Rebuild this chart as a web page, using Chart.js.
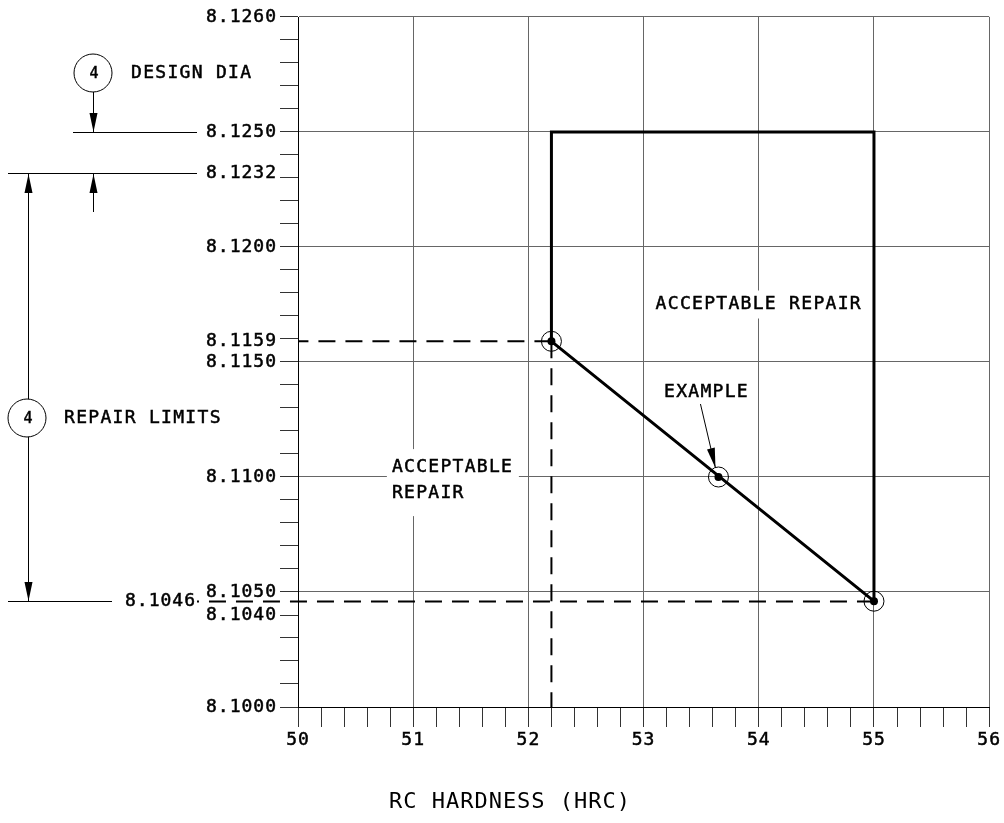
<!DOCTYPE html>
<html><head><meta charset="utf-8">
<script src="https://cdn.jsdelivr.net/npm/chart.js@4.4.1/dist/chart.umd.min.js"></script>
<style>html,body{margin:0;padding:0;background:#fff}</style>
</head><body>
<canvas id="c" width="1004" height="823"></canvas>
<script>
// ---------- data ----------
const xMajorTicks = [50, 51, 52, 53, 54, 55, 56];
const xMinorStep = 0.2;
const yGridTicks = [8.1000, 8.1050, 8.1100, 8.1150, 8.1200, 8.1250, 8.1260];
const yLabelTicks = [8.1000, 8.1040, 8.1050, 8.1100, 8.1150, 8.1200, 8.1250, 8.1260];
const yBreak = 8.1250;      // above this value the axis is drawn 5x stretched
const yStretch = 5;
const boundaryHRC = [52.2, 52.2, 55.0, 55.0, 52.2];
const boundaryDia = [8.1159, 8.1250, 8.1250, 8.1046, 8.1159];
const markHRC = [52.2, 53.65, 55.0];
const markDia = [8.1159, 8.1100, 8.1046];
const designDia = 8.1250;
const repairUpper = 8.1232;
const repairLower = 8.1046;

// ---------- helpers ----------
const FONT = '"DejaVu Sans Mono", monospace';
const GRID = '#666';
const toAxis = v => v <= yBreak ? v : yBreak + (v - yBreak) * yStretch;
const fromAxis = a => a <= yBreak + 1e-9 ? a : yBreak + (a - yBreak) / yStretch;
const fmt = v => v.toFixed(4);
const pts = (xs, ys) => xs.map((x, i) => ({x: x, y: toAxis(ys[i])}));

function head(ctx, x, y, ang, len, hw) {
  const bx = x - len * Math.cos(ang), by = y - len * Math.sin(ang);
  const nx = -Math.sin(ang) * hw, ny = Math.cos(ang) * hw;
  ctx.save(); ctx.fillStyle = '#000';
  ctx.beginPath(); ctx.moveTo(x, y); ctx.lineTo(bx + nx, by + ny); ctx.lineTo(bx - nx, by - ny);
  ctx.closePath(); ctx.fill(); ctx.restore();
}
function arrow(ctx, x1, y1, x2, y2, len, hw) {
  ctx.beginPath(); ctx.moveTo(x1, y1); ctx.lineTo(x2, y2); ctx.stroke();
  head(ctx, x2, y2, Math.atan2(y2 - y1, x2 - x1), len || 19, hw || 4);
}
function hline(ctx, x1, x2, y) { const yy = Math.round(y) + 0.5; ctx.beginPath(); ctx.moveTo(x1, yy); ctx.lineTo(x2, yy); ctx.stroke(); }
function text(ctx, s, x, y, align, size, spacing) {
  ctx.save();
  ctx.font = (size || 18) + 'px ' + FONT;
  ctx.letterSpacing = (spacing == null ? 1.3 : spacing) + 'px';
  ctx.textAlign = align || 'left'; ctx.textBaseline = 'middle';
  ctx.strokeStyle = '#000'; ctx.lineWidth = 0.5; ctx.fillStyle = '#000';
  ctx.strokeText(s, x, y);
  ctx.fillText(s, x, y);
  ctx.restore();
}
function balloon(ctx, cx, cy, r, s) {
  ctx.save();
  ctx.beginPath(); ctx.arc(cx, cy, r, 0, Math.PI * 2);
  ctx.fillStyle = '#fff'; ctx.fill(); ctx.strokeStyle = '#000'; ctx.lineWidth = 1; ctx.stroke();
  ctx.restore();
  text(ctx, s, cx + 1, cy + 1, 'center', 15, 0);
}

const spacingPlugin = {
  id: 'spacing',
  beforeUpdate(chart) { chart.ctx.letterSpacing = '1px'; },
  beforeDraw(chart) { chart.ctx.letterSpacing = '1px'; }
};

const annot = {
  id: 'annot',
  beforeDatasetsDraw(chart) {
    const ctx = chart.ctx, X = chart.scales.x, Y = chart.scales.y;
    const px = v => X.getPixelForValue(v), py = v => Y.getPixelForValue(toAxis(v));
    ctx.save();
    // upper label
    const cx = px(54.0) - 1, cy = py(8.1175);
    ctx.fillStyle = '#fff'; ctx.fillRect(cx - 110, cy - 14, 220, 28);
    text(ctx, 'ACCEPTABLE REPAIR', cx + 1, cy, 'center');
    // lower label
    const lx = px(50.815), ly1 = py(8.11043), ly2 = py(8.1093);
    ctx.fillStyle = '#fff'; ctx.fillRect(lx - 5, ly1 - 18, 132, 67);
    text(ctx, 'ACCEPTABLE', lx, ly1, 'left');
    text(ctx, 'REPAIR', lx, ly2, 'left');
    // example label
    text(ctx, 'EXAMPLE', px(53.546), py(8.1137), 'center');
    ctx.restore();
  },
  afterDraw(chart) {
    const ctx = chart.ctx, X = chart.scales.x, Y = chart.scales.y;
    const px = v => X.getPixelForValue(v), py = v => Y.getPixelForValue(toAxis(v));
    const labelRight = X.left - 21;
    ctx.save();
    ctx.strokeStyle = '#000'; ctx.fillStyle = '#000'; ctx.lineWidth = 1;

    // example arrow
    const ex = px(markHRC[1]), ey = py(markDia[1]);
    arrow(ctx, ex - 18, ey - 73, ex - 3, ey - 9, 20, 4);

    // design dia
    const yD = py(designDia);
    hline(ctx, 73, 197, yD);
    arrow(ctx, 93.5, 92, 93.5, Math.round(yD), 19, 4);
    balloon(ctx, 93, 73, 19, '4');
    text(ctx, 'DESIGN DIA', 131, 73, 'left');

    // repair limits
    const yU = py(repairUpper), yL = py(repairLower);
    hline(ctx, 8, 197, yU);
    text(ctx, fmt(repairUpper), labelRight, yU, 'right', 18, 1);
    arrow(ctx, 93.5, Math.round(yU) + 39, 93.5, Math.round(yU) + 1, 19, 4);
    ctx.beginPath(); ctx.moveTo(28.5, yU); ctx.lineTo(28.5, yL); ctx.stroke();
    head(ctx, 28.5, Math.round(yU) + 1, -Math.PI / 2, 19, 4);
    head(ctx, 28.5, Math.round(yL), Math.PI / 2, 19, 4);
    balloon(ctx, 27, 418, 19, '4');
    text(ctx, 'REPAIR LIMITS', 64, 418, 'left');

    hline(ctx, 8, 112, yL);
    text(ctx, fmt(repairLower), 196, yL, 'right', 18, 1);
    // dashed line at lower limit, from the 55 point leftwards to the label
    ctx.strokeStyle = '#000'; ctx.lineWidth = 2; ctx.setLineDash([17, 10]);
    ctx.beginPath(); ctx.moveTo(px(markHRC[2]), Math.round(yL) + 0.5); ctx.lineTo(197, Math.round(yL) + 0.5); ctx.stroke();
    ctx.setLineDash([]); ctx.lineWidth = 1;

    // 8.1159 label
    text(ctx, fmt(markDia[0]), labelRight, py(markDia[0]), 'right', 18, 1);
    ctx.restore();
  }
};

const xTicks = [];
for (let i = 0; i <= Math.round((xMajorTicks[xMajorTicks.length - 1] - xMajorTicks[0]) / xMinorStep); i++)
  xTicks.push({value: Math.round((xMajorTicks[0] + i * xMinorStep) * 10) / 10});
const yTicks = [];
for (let a = toAxis(yGridTicks[0]); a <= toAxis(yGridTicks[yGridTicks.length - 1]) + 1e-9; a += 0.001)
  yTicks.push({value: +a.toFixed(4)});

const isYGrid = a => yGridTicks.some(v => fmt(v) === fmt(fromAxis(a)));
const isYLabel = a => yLabelTicks.some(v => fmt(v) === fmt(fromAxis(a)));

new Chart(document.getElementById('c'), {
  type: 'scatter',
  data: {
    datasets: [
      {data: pts([markHRC[0], xMajorTicks[0]], [markDia[0], markDia[0]]), showLine: true,
       borderColor: '#000', borderWidth: 2, borderDash: [17, 10], pointRadius: 0},
      {data: pts([markHRC[0], markHRC[0]], [markDia[0], yGridTicks[0]]), showLine: true,
       borderColor: '#000', borderWidth: 2, borderDash: [17, 10], pointRadius: 0},
      {data: pts(boundaryHRC, boundaryDia), showLine: true, borderColor: '#000', borderWidth: 3,
       pointRadius: 0, borderJoinStyle: 'miter', tension: 0},
      {data: pts(markHRC, markDia), showLine: false, pointRadius: 10, pointBorderWidth: 1,
       pointBorderColor: '#000', pointBackgroundColor: 'rgba(0,0,0,0)'},
      {data: pts(markHRC, markDia), showLine: false, pointRadius: 4, pointBorderWidth: 0,
       pointBackgroundColor: '#000', pointBorderColor: '#000'}
    ]
  },
  options: {
    responsive: false, animation: false, events: [],
    layout: {padding: {top: 17, right: 14, left: 30, bottom: 8}},
    plugins: {
      legend: {display: false}, tooltip: {enabled: false},
      title: {display: true, text: 'RC HARDNESS (HRC)', position: 'bottom', color: '#000',
              font: {family: FONT, size: 22, weight: 'normal', lineHeight: 1.2}, padding: 0}
    },
    scales: {
      x: {
        type: 'linear', min: xMajorTicks[0], max: xMajorTicks[xMajorTicks.length - 1],
        afterBuildTicks: s => { s.ticks = xTicks.map(t => ({value: t.value})); },
        afterFit: s => { s.height = 81.6; },
        ticks: {autoSkip: false, maxRotation: 0, padding: 3, color: '#000',
                textStrokeColor: '#000', textStrokeWidth: 0.5,
                font: {family: FONT, size: 18},
                callback: v => xMajorTicks.includes(Math.round(v * 10) / 10) ? String(Math.round(v)) : ''},
        grid: {color: c => (c.tick && xMajorTicks.includes(Math.round(c.tick.value * 10) / 10)) ? GRID : 'rgba(0,0,0,0)',
               tickColor: '#333', tickLength: 20, lineWidth: 1},
        border: {display: true, color: '#000', width: 1}
      },
      y: {
        type: 'linear', min: toAxis(yGridTicks[0]), max: toAxis(yGridTicks[yGridTicks.length - 1]),
        afterBuildTicks: s => { s.ticks = yTicks.map(t => ({value: t.value})); },
        afterFit: s => { s.width = 268; },
        ticks: {autoSkip: false, padding: 3, color: '#000', font: {family: FONT, size: 18},
                textStrokeColor: '#000', textStrokeWidth: 0.5,
                callback: v => isYLabel(v) ? fmt(fromAxis(v)) : ''},
        grid: {color: c => (c.tick && isYGrid(c.tick.value)) ? GRID : 'rgba(0,0,0,0)',
               tickColor: '#333', tickLength: 18, lineWidth: 1},
        border: {display: true, color: '#000', width: 1}
      }
    }
  },
  plugins: [spacingPlugin, annot]
});
</script>
</body></html>
